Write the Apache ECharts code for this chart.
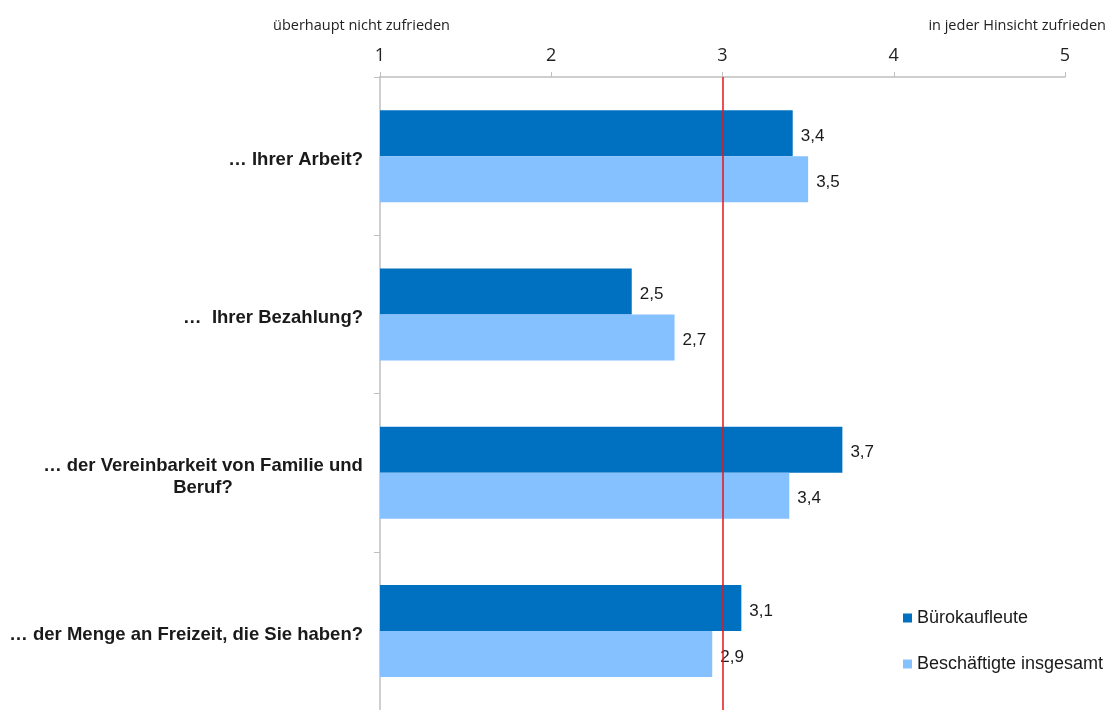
<!DOCTYPE html>
<html>
<head>
<meta charset="utf-8">
<script src="https://cdn.jsdelivr.net/npm/echarts@6/dist/echarts.min.js"></script>
<style>html,body{margin:0;padding:0;background:#fff}#c{width:1110px;height:710px}</style>
</head>
<body>
<div id="c"></div>
<script>
const categories = [
  '… Ihrer Arbeit?',
  '…  Ihrer Bezahlung?',
  '… der Vereinbarkeit von Familie und\nBeruf?',
  '… der Menge an Freizeit, die Sie haben?'
];
const seriesNames = ['Bürokaufleute', 'Beschäftigte insgesamt'];
const buero = [3.41, 2.47, 3.70, 3.11];
const gesamt = [3.50, 2.72, 3.39, 2.94];
const refValue = 3;
const axisLeftText = 'überhaupt nicht zufrieden';
const axisRightText = 'in jeder Hinsicht zufrieden';

const ARIAL = 'Arial, "Liberation Sans", sans-serif';
const NARROW = '"Open Sans", sans-serif';
const CAT_FONT_SIZE = 18.5;

// measure longest line of multi-line labels so lines can be centred within the block
const measureCtx = document.createElement('canvas').getContext('2d');
measureCtx.font = 'bold ' + CAT_FONT_SIZE + 'px ' + ARIAL;
const catRich = {
  c: { align: 'center', fontSize: CAT_FONT_SIZE, fontWeight: 'bold', color: '#1a1a1a', fontFamily: ARIAL, lineHeight: 22 }
};
function catFormatter(value) {
  const lines = value.split('\n');
  if (lines.length === 1) return value;
  const w = Math.ceil(Math.max(...lines.map(l => measureCtx.measureText(l).width)));
  catRich.c.width = w;
  return lines.map(l => '{c|' + l + '}').join('\n');
}
categories.forEach(catFormatter);

const chart = echarts.init(document.getElementById('c'));
const labelFmt = p => p.value.toFixed(1).replace('.', ',');
chart.setOption({
  animation: false,
  grid: { left: 380, right: 45, top: 77, height: 638 },
  graphic: [
    { type: 'text', left: 273, top: 18, style: { text: axisLeftText, font: '14.5px ' + NARROW, fill: '#222' } },
    { type: 'text', right: 4, top: 18, style: { text: axisRightText, font: '14.5px ' + NARROW, fill: '#222' } }
  ],
  legend: {
    orient: 'vertical', left: 898, top: 604,
    icon: 'rect', itemWidth: 9, itemHeight: 9, itemGap: 28,
    textStyle: { fontSize: 18, color: '#1a1a1a', fontFamily: ARIAL },
    data: seriesNames
  },
  xAxis: {
    type: 'value', position: 'top', min: 1, max: 5, interval: 1,
    axisLine: { show: true, lineStyle: { color: '#bfbfbf', width: 1.5 } },
    axisTick: { show: true, length: 5, lineStyle: { color: '#bfbfbf' } },
    axisLabel: { fontSize: 18, color: '#222', margin: 12, fontFamily: NARROW },
    splitLine: { show: false }
  },
  yAxis: {
    type: 'category', inverse: true, data: categories,
    axisLine: { show: true, lineStyle: { color: '#bfbfbf', width: 1.5 } },
    axisTick: { show: true, length: 6, lineStyle: { color: '#bfbfbf' } },
    axisLabel: {
      fontSize: CAT_FONT_SIZE, fontWeight: 'bold', color: '#1a1a1a', margin: 17, align: 'right',
      lineHeight: 22, fontFamily: ARIAL, padding: [8, 0, 0, 0],
      formatter: catFormatter, rich: catRich
    }
  },
  series: [
    {
      name: seriesNames[0], type: 'bar', data: buero, barWidth: 46, barGap: '0%',
      itemStyle: { color: '#0070C0' },
      label: { show: true, position: 'right', distance: 8, offset: [0, 3], formatter: labelFmt, fontSize: 17, color: '#1a1a1a', fontFamily: ARIAL },
      markLine: {
        silent: true, symbol: 'none',
        lineStyle: { color: '#e8141b', width: 1.5, type: 'solid' },
        label: { show: false },
        data: [{ xAxis: refValue }]
      },
      z: 2
    },
    {
      name: seriesNames[1], type: 'bar', data: gesamt, barWidth: 46,
      itemStyle: { color: '#85C0FF' },
      label: { show: true, position: 'right', distance: 8, offset: [0, 3], formatter: labelFmt, fontSize: 17, color: '#1a1a1a', fontFamily: ARIAL },
      z: 2
    }
  ]
});
</script>
</body>
</html>
